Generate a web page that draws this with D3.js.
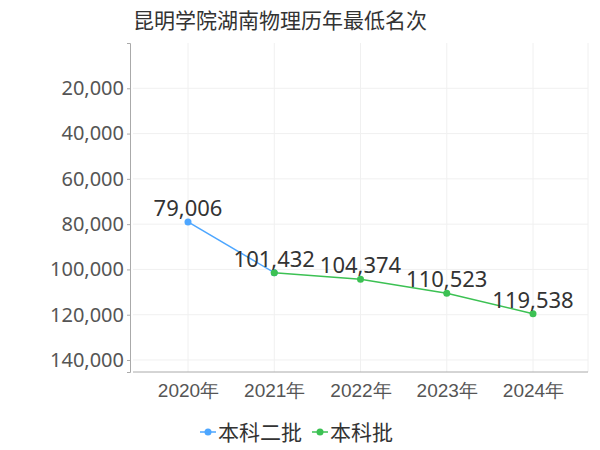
<!DOCTYPE html>
<html><head><meta charset="utf-8">
<script src="https://cdn.jsdelivr.net/npm/d3@7"></script>
<style>body{margin:0;background:#fff;font-family:"Noto Sans CJK SC","Noto Sans",sans-serif}</style>
</head><body><div id="chart"></div>
<script>
// data
const years = ["2020年", "2021年", "2022年", "2023年", "2024年"]
const seriesNames = ["本科二批", "本科批"]
const erpi = [79006, 101432, null, null, null]
const benke = [null, 101432, 104374, 110523, 119538]
const yTicks = [20000, 40000, 60000, 80000, 100000, 120000, 140000]
const colors = ["#4da6ff", "#3cc153"]

const WIDTH = 600, HEIGHT = 450
const svg = d3.select("#chart").append("svg").attr("width", WIDTH).attr("height", HEIGHT)

svg.append("text").attr("x", 133).attr("y", 28).attr("font-size", 21).attr("fill", "#333")
    .text("昆明学院湖南物理历年最低名次")

const x = d3.scalePoint().domain(years).range([188, 533])
const y = d3.scaleLinear().domain([0, 145300]).range([43, 372])

// grid
svg.selectAll(".hg").data(yTicks).enter().append("line")
    .attr("x1", 133).attr("x2", 588).attr("y1", d => y(d)).attr("y2", d => y(d))
    .attr("stroke", "#f0f0f0")
svg.selectAll(".vg").data(years).enter().append("line")
    .attr("x1", d => x(d)).attr("x2", d => x(d)).attr("y1", 43).attr("y2", 372)
    .attr("stroke", "#f0f0f0")
svg.append("line").attr("x1", 588).attr("x2", 588).attr("y1", 43).attr("y2", 372).attr("stroke", "#f0f0f0")

// y axis
const yAxis = svg.append("g").attr("transform", "translate(130,0)")
    .call(d3.axisLeft(y).tickValues(yTicks).tickFormat(d3.format(",")).tickSize(3))
yAxis.select(".domain").attr("stroke", "#aaa")
yAxis.selectAll(".tick line").attr("stroke", "#aaa")
yAxis.selectAll("text").attr("font-size", 20).attr("fill", "#555").attr("font-family", "Noto Sans")

// x axis
const xAxis = svg.append("g").attr("transform", "translate(0,372)")
    .call(d3.axisBottom(x).tickSize(0).tickPadding(12))
xAxis.select(".domain").attr("d", "M133,0H588").attr("stroke", "#aaa")
xAxis.selectAll("text").attr("font-size", 19).attr("fill", "#555")

// lines
const line = d3.line().defined(d => d[1] != null).x(d => x(d[0])).y(d => y(d[1]))
;[erpi, benke].forEach((vals, i) => {
    const pts = years.map((yr, j) => [yr, vals[j]])
    svg.append("path").datum(pts).attr("d", line).attr("fill", "none")
        .attr("stroke", colors[i]).attr("stroke-width", 1.5)
    svg.selectAll(".p" + i).data(pts.filter(d => d[1] != null)).enter().append("circle")
        .attr("cx", d => x(d[0])).attr("cy", d => y(d[1])).attr("r", 3.5).attr("fill", colors[i])
})

// labels (one per year)
const labelVals = years.map((yr, j) => erpi[j] != null ? erpi[j] : benke[j])
svg.selectAll(".lbl").data(years).enter().append("text")
    .attr("x", d => x(d)).attr("y", (d, j) => y(labelVals[j]) - 6)
    .attr("text-anchor", "middle").attr("font-size", 22).attr("fill", "#333").attr("font-family", "Noto Sans")
    .text((d, j) => d3.format(",")(labelVals[j]))

// legend
const lg = svg.append("g").attr("transform", "translate(200,432)")
seriesNames.forEach((n, i) => {
    const g = lg.append("g").attr("transform", `translate(${i * 112},0)`)
    g.append("line").attr("x1", 0).attr("x2", 16).attr("stroke", colors[i]).attr("stroke-width", 1.5)
    g.append("circle").attr("cx", 8).attr("r", 3.5).attr("fill", colors[i])
    g.append("text").attr("x", 18).attr("y", 8).attr("font-size", 21).attr("fill", "#333").text(n)
})
</script></body></html>
